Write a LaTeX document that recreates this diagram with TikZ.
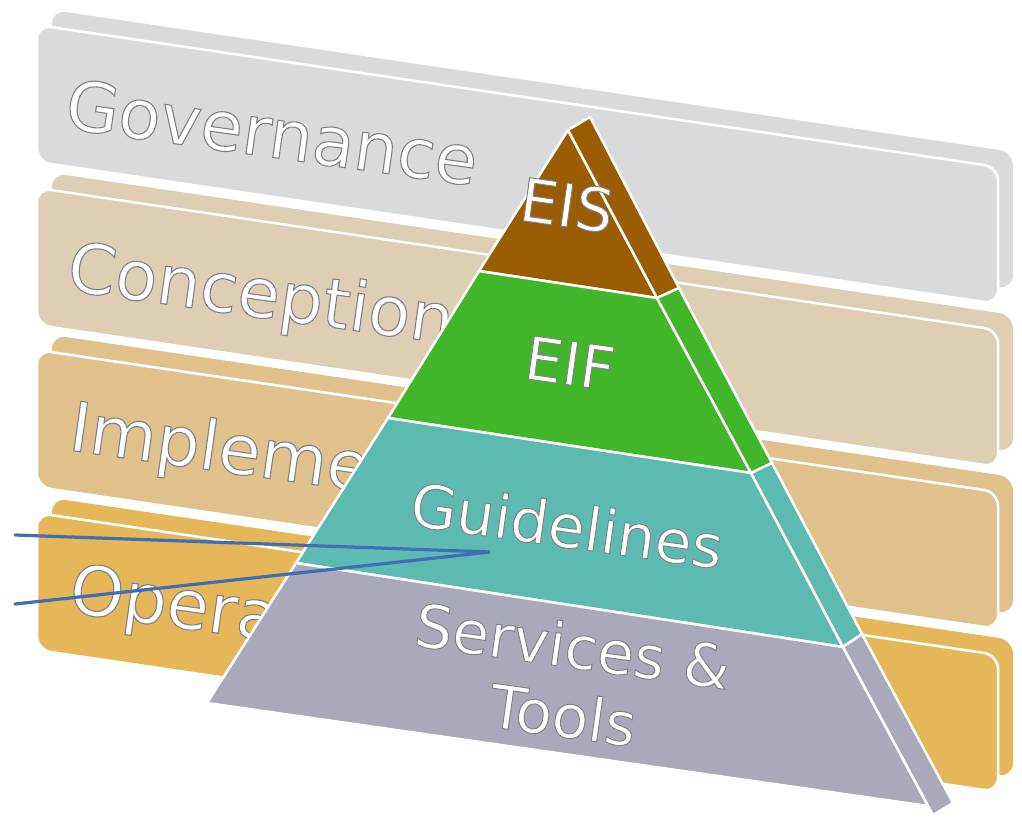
\documentclass[tikz,border=0pt]{standalone}
\usepackage{fontspec}
\setmainfont{DejaVu Sans}
\newfontfamily\edgefont[FakeBold=1.6]{DejaVu Sans}
\newcommand\edged[1]{\special{pdf:literal direct 0.5 0.5 0.52 RG}#1}
\usetikzlibrary{calc}
\definecolor{govgray}{RGB}{217,218,220}
\definecolor{contan}{RGB}{222,206,180}
\definecolor{imptan}{RGB}{224,193,140}
\definecolor{opsgold}{RGB}{230,183,88}
\definecolor{eisbrown}{RGB}{154,93,2}
\definecolor{eifgreen}{RGB}{66,182,42}
\definecolor{guideteal}{RGB}{92,186,176}
\definecolor{servgray}{RGB}{169,169,185}
\definecolor{pointblue}{RGB}{62,110,180}

\begin{document}
\begin{tikzpicture}[x=1bp,y=-1bp,every node/.style={inner sep=0pt},
  slabback/.style={fill=#1,rounded corners=14bp},
  slabfront/.style={fill=#1,draw=white,line width=2.5bp,rounded corners=14bp},
  slabtxt/.style={anchor=base west,rotate=-8,text=white,font=\edgefont\fontsize{69}{69}\selectfont},
  layer/.style={fill=#1,draw=white,line width=2.5bp,line join=round},
  pyrtxt/.style={align=center,rotate=-8,text=white,font=\edgefont\fontsize{60}{70}\selectfont},
  pointer/.style={draw=pointblue,line width=3.2bp,line cap=round}]
\useasboundingbox (0,0) rectangle (1022,817);

% slabs
\fill[slabback=govgray] (52,10) -- (1013,152) -- (1013,289) -- (52,147) -- cycle;
\draw[slabfront=govgray] (37,25) -- (998,167) -- (998,304) -- (37,162) -- cycle;
\node[slabtxt] (gov) at (63,128) {\edged{Governance}};

\fill[slabback=contan] (52,173) -- (1013,315) -- (1013,452) -- (52,310) -- cycle;
\draw[slabfront=contan] (37,188) -- (998,330) -- (998,467) -- (37,325) -- cycle;
\node[slabtxt] (con) at (65,290) {\edged{Conception}};

\fill[slabback=imptan] (52,335) -- (1013,477) -- (1013,614) -- (52,472) -- cycle;
\draw[slabfront=imptan] (37,350) -- (998,492) -- (998,629) -- (37,487) -- cycle;
\node[slabtxt] (imp) at (67,450) {\edged{Impleme}};

\fill[slabback=opsgold] (52,498) -- (1013,640) -- (1013,777) -- (52,635) -- cycle;
\draw[slabfront=opsgold] (37,513) -- (998,655) -- (998,792) -- (37,650) -- cycle;
\node[slabtxt] (ops) at (67,612) {\edged{Opera}};

% pyramid
\coordinate (apex) at (568,130);
\coordinate (top) at (590,117);
\coordinate (l1) at (479,271);
\coordinate (m1) at (657,298);
\coordinate (r1) at (679,288);
\coordinate (l2) at (388,418);
\coordinate (m2) at (751,473);
\coordinate (r2) at (772,463);
\coordinate (l3) at (296,563);
\coordinate (m3) at (843,647);
\coordinate (r3) at (862,634);
\coordinate (l4) at (207,703);
\coordinate (m4) at (928,806);
\coordinate (m5) at (933,815);
\coordinate (r4) at (953,803);

\draw[layer=eisbrown] (apex) -- (l1) -- (m1) -- cycle;
\draw[layer=eisbrown] (apex) -- (top) -- (r1) -- (m1) -- cycle;
\draw[layer=eifgreen] (l1) -- (l2) -- (m2) -- (m1) -- cycle;
\draw[layer=eifgreen] (m1) -- (r1) -- (r2) -- (m2) -- cycle;
\draw[layer=guideteal] (l2) -- (l3) -- (m3) -- (m2) -- cycle;
\draw[layer=guideteal] (m2) -- (r2) -- (r3) -- (m3) -- cycle;
\draw[layer=servgray] (l3) -- (l4) -- (m4) -- (m3) -- cycle;
\draw[layer=servgray] (m3) -- (r3) -- (r4) -- (m5) -- cycle;

\node[pyrtxt] (eis) at (567,205) {\edged{EIS}};
\node[pyrtxt] (eif) at (570,363) {\edged{EIF}};
\node[pyrtxt] (gui) at (567,525) {\edged{Guidelines}};
\node[pyrtxt] (srv) at (568,680) {\edged{Services \&}\\\edged{Tools}};

% pointer lines
\coordinate (tip) at (490,552);
\coordinate (in1) at (15,535);
\coordinate (in2) at (15,604);
\draw[pointer] (in1) -- (tip) -- (in2);
\end{tikzpicture}
\end{document}
